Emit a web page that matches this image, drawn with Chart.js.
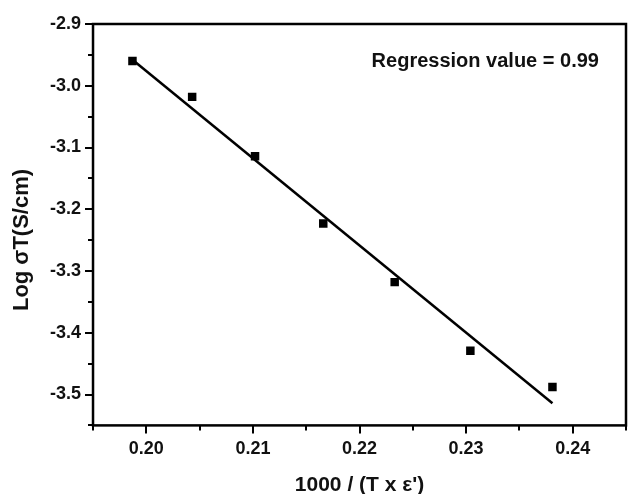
<!DOCTYPE html>
<html>
<head>
<meta charset="utf-8">
<script src="https://cdn.jsdelivr.net/npm/chart.js@4.4.1/dist/chart.umd.min.js"></script>
<style>
  html, body { margin: 0; padding: 0; background: #fff; }
  #chart { display: block; }
</style>
</head>
<body>
<canvas id="chart" width="628" height="494"></canvas>
<script>
// measured points
const xValues = [0.1987, 0.2043, 0.2102, 0.2166, 0.2233, 0.2304, 0.2381];
const yValues = [-2.960, -3.018, -3.114, -3.223, -3.318, -3.429, -3.488];
// linear fit end points
const fitX = [0.1987, 0.2381];
const fitY = [-2.958, -3.514];

const xRange = [0.195, 0.245];
const yRange = [-3.55, -2.9];
const xStep = 0.005;
const yStep = 0.05;

const noteText = 'Regression value = 0.99';
const notePos = [0.2318, -2.961];

const fontFamily = "'Liberation Sans', Arial, sans-serif";

function isMajor(v, per) {
    return Math.abs(v * per - Math.round(v * per)) < 1e-6;
}

const frameAndTicks = {
    id: 'frameAndTicks',
    afterDraw(chart) {
        const { ctx, chartArea: a, scales: { x, y } } = chart;
        ctx.save();
        ctx.strokeStyle = '#000';
        ctx.lineWidth = 2.5;
        ctx.strokeRect(a.left, a.top, a.right - a.left, a.bottom - a.top);

        ctx.lineWidth = 2;
        ctx.beginPath();
        x.ticks.forEach((t, i) => {
            const px = Math.round(x.getPixelForTick(i));
            const len = isMajor(t.value, 100) ? 8 : 5;
            ctx.moveTo(px, a.bottom);
            ctx.lineTo(px, a.bottom + len);
        });
        y.ticks.forEach((t, i) => {
            const py = Math.round(y.getPixelForTick(i));
            const len = isMajor(t.value, 10) ? 8 : 5;
            ctx.moveTo(a.left, py);
            ctx.lineTo(a.left - len, py);
        });
        ctx.stroke();

        ctx.fillStyle = '#111';
        ctx.font = 'bold 20px ' + fontFamily;
        ctx.textAlign = 'center';
        ctx.textBaseline = 'middle';
        ctx.fillText(noteText, x.getPixelForValue(notePos[0]), y.getPixelForValue(notePos[1]));
        ctx.restore();
    }
};

new Chart(document.getElementById('chart'), {
    type: 'scatter',
    data: {
        datasets: [
            {
                label: 'data',
                data: xValues.map((v, i) => ({ x: v, y: yValues[i] })),
                pointStyle: 'rect',
                pointRadius: 6,
                backgroundColor: '#000',
                borderColor: '#000',
                borderWidth: 0
            },
            {
                label: 'fit',
                data: fitX.map((v, i) => ({ x: v, y: fitY[i] })),
                showLine: true,
                pointRadius: 0,
                borderColor: '#000',
                borderWidth: 2.5
            }
        ]
    },
    options: {
        responsive: false,
        animation: false,
        devicePixelRatio: 1,
        layout: { autoPadding: false, padding: { top: 24, right: 2, left: 0, bottom: 0 } },
        plugins: {
            legend: { display: false },
            tooltip: { enabled: false }
        },
        scales: {
            x: {
                type: 'linear',
                min: xRange[0],
                max: xRange[1],
                border: { display: false },
                grid: { drawOnChartArea: false, color: 'transparent', tickLength: 8 },
                afterFit: s => { s.paddingRight = 0; s.paddingLeft = 0; },
                ticks: {
                    stepSize: xStep,
                    autoSkip: false,
                    maxRotation: 0,
                    padding: 5,
                    color: '#111',
                    font: { family: fontFamily, size: 18, weight: 'bold' },
                    callback: v => isMajor(v, 100) ? v.toFixed(2) : ''
                },
                title: {
                    display: true,
                    text: "1000 / (T x \u03b5')",
                    color: '#111',
                    padding: { top: 10, bottom: -2 },
                    font: { family: fontFamily, size: 21, weight: 'bold', lineHeight: 1 }
                }
            },
            y: {
                type: 'linear',
                min: yRange[0],
                max: yRange[1],
                border: { display: false },
                grid: { drawOnChartArea: false, color: 'transparent', tickLength: 8 },
                ticks: {
                    stepSize: yStep,
                    autoSkip: false,
                    padding: 4,
                    color: '#111',
                    font: { family: fontFamily, size: 18, weight: 'bold' },
                    callback: v => isMajor(v, 10) ? v.toFixed(1) : ''
                },
                title: {
                    display: true,
                    text: 'Log \u03c3T(S/cm)\u00a0\u00a0\u00a0\u00a0\u00a0',
                    color: '#111',
                    padding: { top: 11, bottom: 13 },
                    font: { family: fontFamily, size: 22, weight: 'bold', lineHeight: 1 }
                }
            }
        }
    },
    plugins: [frameAndTicks]
});
</script>
</body>
</html>
